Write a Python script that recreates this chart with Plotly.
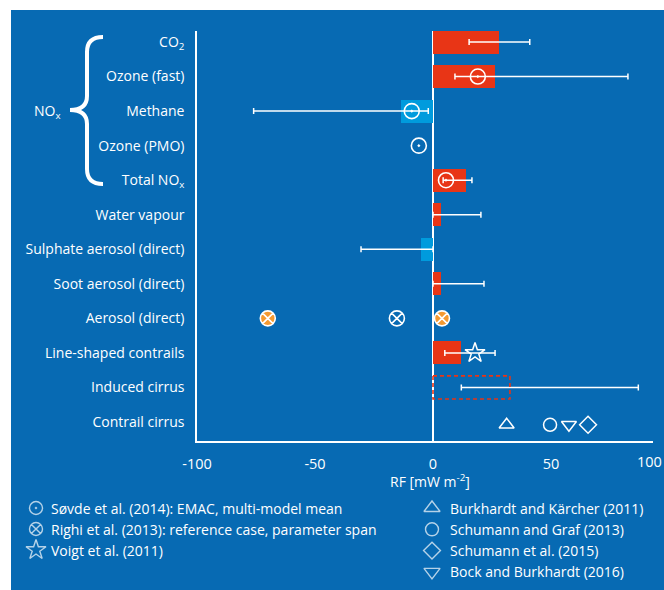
import plotly.graph_objects as go

# ---------------- data ----------------
categories = ["CO<sub>2</sub>", "Ozone (fast)", "Methane", "Ozone (PMO)", "Total NO<sub>x</sub>",
              "Water vapour", "Sulphate aerosol (direct)", "Soot aerosol (direct)",
              "Aerosol (direct)", "Line-shaped contrails", "Induced cirrus", "Contrail cirrus"]
bar_values = [28, 26.3, -13.5, None, 14, 3.4, -5, 3.4, None, 12, None, None]
induced_cirrus_box = 32.6          # dashed (uncertain) estimate for induced cirrus
err_low = [15.3, 9.3, -76, None, 4.3, 0, -30.5, 0, None, 5, 12, None]
err_high = [41, 82.6, -2, None, 16.5, 20.3, 0, 21.6, None, 26.3, 87, None]

sovde_rows = ["Ozone (fast)", "Methane", "Ozone (PMO)", "Total NO<sub>x</sub>"]
sovde_vals = [19, -9, -6, 5.5]
righi_ref_rows = ["Aerosol (direct)"]
righi_ref_vals = [-15.3]
righi_span_rows = ["Aerosol (direct)", "Aerosol (direct)"]
righi_span_vals = [-70, 3.8]
voigt_rows = ["Line-shaped contrails"]
voigt_vals = [17.8]
cc_studies = ["Burkhardt and Kärcher (2011)", "Schumann and Graf (2013)",
              "Schumann et al. (2015)", "Bock and Burkhardt (2016)"]
cc_vals = [31.2, 49.6, 65.7, 57.6]
cc_symbols = ["triangle-up-open", "circle-open", "diamond-open", "triangle-down-open"]

x_ticks = [-100, -50, 0, 50, 100]

# ---------------- style ----------------
W, H = 664, 590
BG = "#076ab3"
RED = "#e83516"
LBLUE = "#009bdd"
ORANGE = "#f49a32"
WHITE = "white"
FONT = "Open Sans"

row = {c: i for i, c in enumerate(categories)}
y_top_px, y_bot_px = 31, 441
x_left_px, x_right_px = 197, 653
px_per_row = (422 - 42) / 11
y_range = [11 + (y_bot_px - 422) / px_per_row, -(42 - y_top_px) / px_per_row]
px_per_unit = (433 - 197) / 100
x_range = [-100, (x_right_px - 433) / px_per_unit]

fig = go.Figure()

# bars
bx, by, bc = [], [], []
for i, v in enumerate(bar_values):
    if v is not None:
        bx.append(v); by.append(i); bc.append(RED if v > 0 else LBLUE)
fig.add_trace(go.Bar(x=bx, y=by, orientation="h", width=0.67,
                     marker=dict(color=bc, line=dict(width=0)), showlegend=False, hoverinfo="skip"))

# error bars
ex, ey, eh = [], [], []
for i, (lo, hi) in enumerate(zip(err_low, err_high)):
    if lo is not None:
        ex.append((lo + hi) / 2); ey.append(i); eh.append((hi - lo) / 2)
fig.add_trace(go.Scatter(x=ex, y=ey, mode="markers",
                         marker=dict(size=1, color="rgba(0,0,0,0)"),
                         error_x=dict(type="data", array=eh, symmetric=True, color=WHITE,
                                      thickness=1.5, width=3),
                         showlegend=False, hoverinfo="skip"))

# Søvde markers
fig.add_trace(go.Scatter(x=sovde_vals, y=[row[r] for r in sovde_rows], mode="markers",
                         marker=dict(symbol="circle-open-dot", size=15, color=WHITE,
                                     line=dict(width=1.6, color=WHITE)),
                         showlegend=False, hoverinfo="skip"))
# Righi markers
fig.add_trace(go.Scatter(x=righi_span_vals, y=[row[r] for r in righi_span_rows], mode="markers",
                         marker=dict(symbol="circle-x", size=15, color=ORANGE,
                                     line=dict(width=1.6, color=WHITE)),
                         showlegend=False, hoverinfo="skip"))
fig.add_trace(go.Scatter(x=righi_ref_vals, y=[row[r] for r in righi_ref_rows], mode="markers",
                         marker=dict(symbol="circle-x-open", size=15, color=WHITE,
                                     line=dict(width=1.6, color=WHITE)),
                         showlegend=False, hoverinfo="skip"))
# Voigt star
fig.add_trace(go.Scatter(x=voigt_vals, y=[row[r] for r in voigt_rows], mode="markers",
                         marker=dict(symbol="star-open", size=15, color=WHITE,
                                     line=dict(width=1.5, color=WHITE)),
                         showlegend=False, hoverinfo="skip"))
# contrail cirrus studies
for v, s in zip(cc_vals, cc_symbols):
    fig.add_trace(go.Scatter(x=[v], y=[row["Contrail cirrus"] + 0.08], mode="markers",
                             marker=dict(symbol=s, size=13, color=WHITE,
                                         line=dict(width=1.5, color=WHITE)),
                             showlegend=False, hoverinfo="skip"))

# dashed box for induced cirrus
ri = row["Induced cirrus"]
fig.add_shape(type="rect", xref="x", yref="y", x0=0, x1=induced_cirrus_box,
              y0=ri - 0.335, y1=ri + 0.335, line=dict(color=RED, width=1.6, dash="4px,3px"),
              fillcolor="rgba(0,0,0,0)")

# blue background
fig.add_shape(type="rect", xref="paper", yref="paper", x0=11 / W, x1=1, y0=0, y1=1 - 10 / H,
              fillcolor=BG, line=dict(width=0), layer="below")

# pixel overlay axes for legend / brace
legend_left = [("circle-open-dot", "Søvde et al. (2014): EMAC, multi-model mean"),
               ("circle-x-open", "Righi et al. (2013): reference case, parameter span"),
               ("star-open", "Voigt et al. (2011)")]
legend_right = [("triangle-up-open", cc_studies[0]), ("circle-open", cc_studies[1]),
                ("diamond-open", cc_studies[2]), ("triangle-down-open", cc_studies[3])]
legend_sizes_left = [13, 13, 15]
legend_sizes_right = [14, 13, 13, 14]
lx, ly, ls, lsz = [], [], [], []
for k, (s, t) in enumerate(legend_left):
    yy = 508 + 21 * k
    lx.append(36); ly.append(yy); ls.append(s); lsz.append(legend_sizes_left[k])
    fig.add_annotation(xref="x2", yref="y2", x=49, y=yy, text=t, showarrow=False,
                       xanchor="left", yanchor="middle", font=dict(size=14, color=WHITE, family=FONT))
for k, (s, t) in enumerate(legend_right):
    yy = 508 + 21.3 * k
    lx.append(432); ly.append(yy); ls.append(s); lsz.append(legend_sizes_right[k])
    fig.add_annotation(xref="x2", yref="y2", x=448, y=yy, text=t, showarrow=False,
                       xanchor="left", yanchor="middle", font=dict(size=14, color=WHITE, family=FONT))
fig.add_trace(go.Scatter(x=lx, y=ly, mode="markers", xaxis="x2", yaxis="y2",
                         marker=dict(symbol=ls, size=lsz, color=WHITE, line=dict(width=1.4, color=WHITE)),
                         showlegend=False, hoverinfo="skip"))

# brace and NOx label
fig.add_shape(type="path", xref="x2", yref="y2",
              path="M 103 37 Q 87 37 87 52 L 87 96 Q 87 110 70 110 Q 87 110 87 124 L 87 169 Q 87 184 103 184",
              line=dict(color=WHITE, width=4))
fig.add_annotation(xref="x2", yref="y2", x=47, y=111, text="NO<sub>x</sub>", showarrow=False,
                   font=dict(size=14, color=WHITE, family=FONT))

# x axis title and the "100" tick at the edge
fig.add_annotation(xref="x2", yref="y2", x=430, y=481, text="RF [mW m<sup>-2</sup>]", showarrow=False,
                   font=dict(size=14, color=WHITE, family=FONT))
fig.add_annotation(xref="x2", yref="y2", x=664, y=461, text=str(x_ticks[-1]), showarrow=False,
                   xanchor="right", font=dict(size=14.5, color=WHITE, family=FONT))

fig.update_layout(
    width=W, height=H, margin=dict(l=0, r=0, t=0, b=0, pad=0, autoexpand=False),
    paper_bgcolor="white", plot_bgcolor="rgba(0,0,0,0)", showlegend=False,
    font=dict(family=FONT, color=WHITE),
    bargap=0,
    xaxis=dict(domain=[x_left_px / W, x_right_px / W], range=x_range,
               tickvals=x_ticks[:-1], ticktext=[str(t) for t in x_ticks[:-1]],
               showgrid=False, zeroline=True, zerolinecolor=WHITE, zerolinewidth=1.5,
               showline=True, linecolor=WHITE, linewidth=1.5,
               ticks="outside", ticklen=9, tickcolor="rgba(0,0,0,0)",
               tickfont=dict(size=14.5, color=WHITE, family=FONT), anchor="y"),
    yaxis=dict(domain=[1 - y_bot_px / H, 1 - y_top_px / H], range=y_range,
               tickvals=list(range(len(categories))), ticktext=categories,
               showgrid=False, zeroline=False, showline=True, linecolor=WHITE, linewidth=1.5,
               ticks="outside", ticklen=8, tickcolor="rgba(0,0,0,0)",
               tickfont=dict(size=14, color=WHITE, family=FONT), anchor="x"),
    xaxis2=dict(domain=[0, 1], range=[0, W], visible=False, anchor="y2"),
    yaxis2=dict(domain=[0, 1], range=[H, 0], visible=False, anchor="x2"),
)

fig.write_html("out.html")
